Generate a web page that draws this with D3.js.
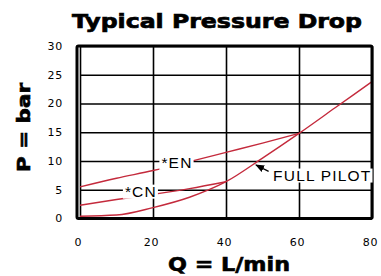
<!DOCTYPE html>
<html><head><meta charset="utf-8">
<script src="https://cdn.jsdelivr.net/npm/d3@7/dist/d3.min.js"></script>
<style>html,body{margin:0;padding:0;background:#fff;}svg{display:block;}</style>
</head><body>
<svg id="c" width="381" height="276"></svg>
<script>
const title = "Typical Pressure Drop";
const xLabel = "Q = L/min";
const yLabel = "P = bar";
const xTicks = [0, 20, 40, 60, 80];
const yTicks = [0, 5, 10, 15, 20, 25, 30];
const enQ = [0, 10, 20, 30, 40, 50, 60];
const enP = [5.5, 7.0, 8.35, 9.9, 11.5, 13.1, 14.8];
const cnQ = [0, 10, 20, 30, 40];
const cnP = [2.3, 3.3, 4.2, 5.2, 6.4];
const fpQ = [0, 10, 20, 30, 40, 50, 60, 70, 80];
const fpP = [0.4, 0.6, 1.9, 3.7, 6.4, 10.5, 14.8, 19.3, 23.8];
const labels = [
  {text: "*EN", q: 22.3, p: 8.8},
  {text: "*CN", q: 12.3, p: 3.8},
  {text: "FULL PILOT", q: 52.9, p: 6.6}
];

const svg = d3.select("#c");
const x = d3.scaleLinear().domain([0, 80]).range([80, 372]);
const y = d3.scaleLinear().domain([0, 30]).range([218.5, 46]);
const red = "#c42a3c";

// grid via axes
svg.append("g").attr("transform", `translate(0,${y(0)})`)
  .call(d3.axisBottom(x).tickValues(xTicks).tickSize(-(y(0) - y(30))).tickFormat(""))
  .call(g => g.select(".domain").remove())
  .call(g => g.selectAll("line").attr("stroke", "#000").attr("stroke-width", 1.6));
svg.append("g").attr("transform", `translate(${x(0)},0)`)
  .call(d3.axisLeft(y).tickValues(yTicks).tickSize(-(x(80) - x(0))).tickFormat(""))
  .call(g => g.select(".domain").remove())
  .call(g => g.selectAll("line").attr("stroke", "#000").attr("stroke-width", 1.6));

// tick labels
svg.append("g").attr("transform", `translate(0,${y(0)})`)
  .call(d3.axisBottom(x).tickValues(xTicks).tickSize(0).tickPadding(20))
  .call(g => g.select(".domain").remove())
  .call(g => g.selectAll("text").attr("dx", -2).attr("font-family", "DejaVu Sans").attr("font-size", 11).attr("letter-spacing", 0.8).attr("fill", "#000"));
svg.append("g").attr("transform", `translate(${x(0)},0)`)
  .call(d3.axisLeft(y).tickValues(yTicks).tickSize(0).tickPadding(17))
  .call(g => g.select(".domain").remove())
  .call(g => g.selectAll("text").attr("dy", "0.3em").attr("font-family", "DejaVu Sans").attr("font-size", 11).attr("letter-spacing", 0.8).attr("fill", "#000"));

// curves
const line = d3.line().x(d => x(d[0])).y(d => y(d[1])).curve(d3.curveMonotoneX);
[[enQ, enP], [cnQ, cnP], [fpQ, fpP]].forEach(([qs, ps]) => {
  svg.append("path").datum(qs.map((q, i) => [q, ps[i]]))
    .attr("d", line).attr("fill", "none").attr("stroke", red).attr("stroke-width", 1.4);
});

// frame
svg.append("rect").attr("x", x(0) - 3).attr("y", y(30)).attr("width", x(80) - x(0) + 3).attr("height", y(0) - y(30))
  .attr("fill", "none").attr("stroke", "#000").attr("stroke-width", 3).attr("rx", 1.5);

// labels with white background
const lbl = svg.append("g");
labels.forEach(l => {
  const g = lbl.append("g");
  const t = g.append("text").attr("x", x(l.q)).attr("y", y(l.p))
    .attr("font-family", "Liberation Sans, Arial, sans-serif").attr("font-size", 15.5)
    .attr("letter-spacing", 1.2).attr("fill", "#000").text(l.text);
  const bb = t.node().getBBox();
  g.insert("rect", "text").attr("x", bb.x - 2).attr("y", bb.y + 2).attr("width", bb.width + 3).attr("height", bb.height - 3).attr("fill", "#fff");
});

// arrow for FULL PILOT
svg.append("defs").append("marker").attr("id", "ah").attr("viewBox", "0 0 10 10")
  .attr("refX", 9).attr("refY", 5).attr("markerWidth", 7).attr("markerHeight", 7).attr("orient", "auto")
  .append("path").attr("d", "M0,1L10,5L0,9Z").attr("fill", "#000");
svg.append("line").attr("x1", x(52.5) - 3).attr("y1", y(8.2)).attr("x2", x(48.2)).attr("y2", y(9.3))
  .attr("stroke", "#000").attr("stroke-width", 1.3).attr("marker-end", "url(#ah)");

// titles
svg.append("text").attr("x", 217).attr("y", 28).attr("text-anchor", "middle")
  .attr("font-family", "DejaVu Sans").attr("font-weight", 900).attr("font-size", 20)
  .attr("stroke", "#000").attr("stroke-width", 0.7)
  .attr("textLength", 290).attr("lengthAdjust", "spacingAndGlyphs").text(title);
svg.append("text").attr("x", 229).attr("y", 271).attr("text-anchor", "middle")
  .attr("font-family", "DejaVu Sans").attr("font-weight", 900).attr("font-size", 19)
  .attr("stroke", "#000").attr("stroke-width", 0.6)
  .attr("textLength", 122).attr("lengthAdjust", "spacingAndGlyphs").text(xLabel);
svg.append("text").attr("transform", "translate(30,127.5) rotate(-90)").attr("text-anchor", "middle")
  .attr("font-family", "DejaVu Sans").attr("font-weight", 900).attr("font-size", 17)
  .attr("stroke", "#000").attr("stroke-width", 0.6)
  .attr("textLength", 89).attr("lengthAdjust", "spacingAndGlyphs").text(yLabel);
</script>
</body></html>
